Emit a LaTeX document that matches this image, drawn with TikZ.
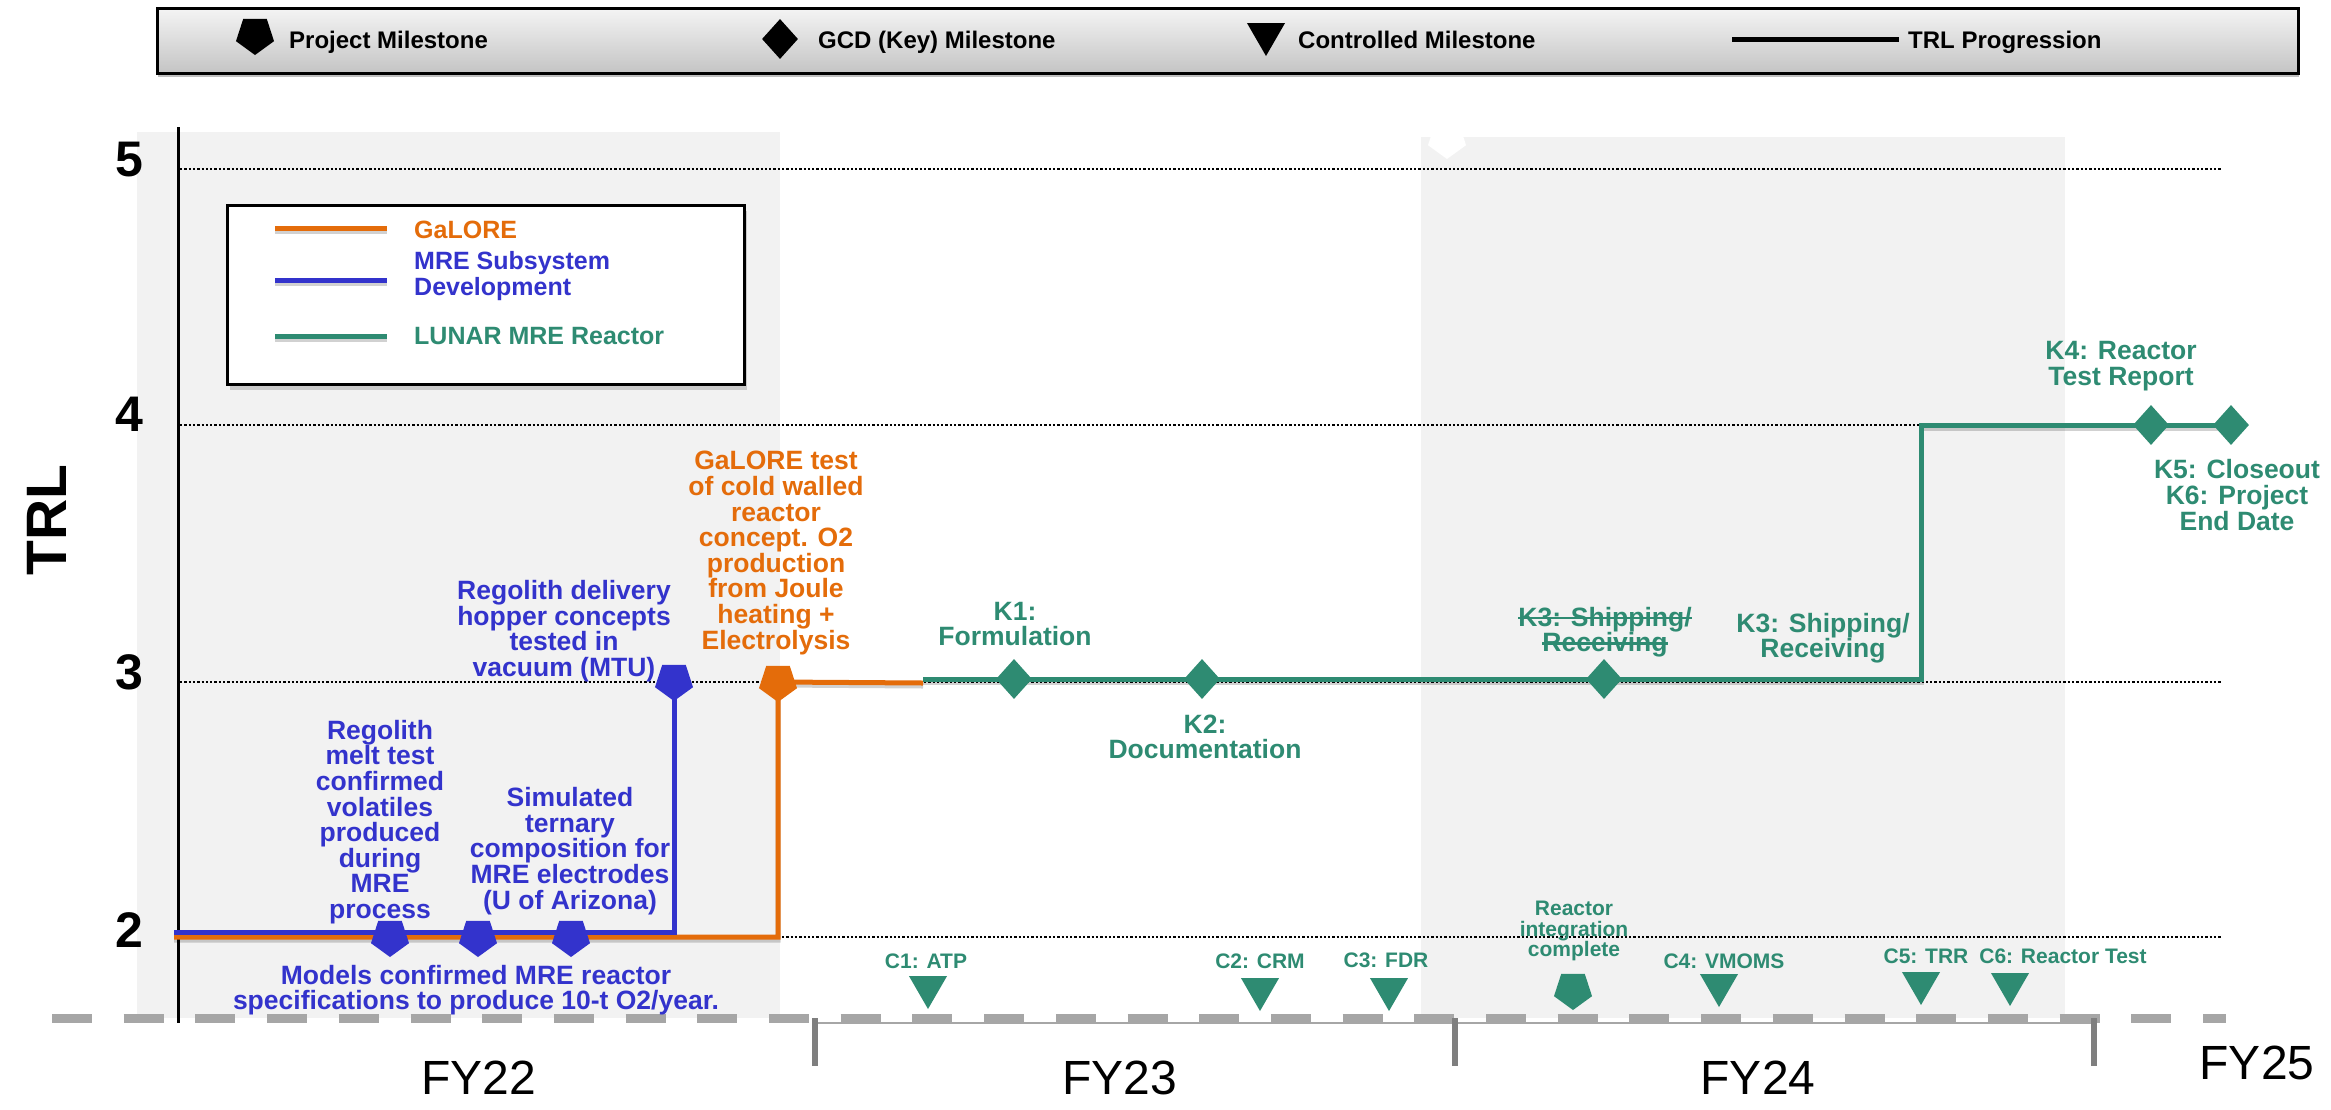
\documentclass[tikz,border=0pt]{standalone}
\usepackage{fontspec}
\setmainfont{Liberation Sans}
\usetikzlibrary{shapes.geometric,shadows}
\definecolor{galore}{RGB}{228,108,10}
\definecolor{mre}{RGB}{51,51,204}
\definecolor{lunar}{RGB}{46,139,114}
\definecolor{shadebg}{RGB}{242,242,242}
\definecolor{dashgrey}{RGB}{166,166,166}
\definecolor{tickgrey}{RGB}{127,127,127}
\definecolor{bartop}{RGB}{244,244,244}
\definecolor{barbot}{RGB}{196,196,196}
\newcommand{\lblfont}{\fontsize{26.5}{25.6}\selectfont\bfseries}
\newcommand{\cmfont}{\fontsize{21}{20.5}\selectfont\bfseries}
\newcommand{\legbarfont}{\fontsize{24}{26}\selectfont\bfseries}
\newcommand{\legboxfont}{\fontsize{25}{26}\selectfont\bfseries}
\newcommand{\fyfont}{\fontsize{48}{50}\selectfont}
\newcommand{\axfont}{\fontsize{50}{52}\selectfont\bfseries}
\newcommand{\trlfont}{\fontsize{57}{60}\selectfont\bfseries}
\newsavebox{\strkbox}
\newcommand{\strk}[1]{\sbox{\strkbox}{#1}\rlap{\rule[7pt]{\wd\strkbox}{2.5pt}}\usebox{\strkbox}}
\tikzset{
  projms/.style={regular polygon,regular polygon sides=5,shape border rotate=180,minimum size=40pt,inner sep=0pt},
  keyms/.style={diamond,minimum width=36pt,minimum height=40pt,inner sep=0pt},
  ctrlms/.style={regular polygon,regular polygon sides=3,shape border rotate=180,minimum size=44pt,inner sep=0pt},
  trlline/.style={line width=5pt},
  trlshadow/.style={line width=5pt,black,opacity=.18,transform canvas={yshift=-3pt}},
  gridline/.style={line width=2.8pt,dash pattern=on 2.3pt off 2pt},
  lbl/.style={font=\lblfont,align=center,inner sep=0pt},
  cmlbl/.style={font=\cmfont,align=center,inner sep=0pt},
  barlbl/.style={font=\legbarfont,anchor=base west,inner sep=0pt},
  boxlbl/.style={font=\legboxfont,anchor=west,align=left,inner sep=0pt},
  fylbl/.style={font=\fyfont,inner sep=0pt},
}
\begin{document}
\begin{tikzpicture}[x=1pt,y=-1pt]
\useasboundingbox (0,0) rectangle (2331,1109);
\fill[shadebg] (137,132) rectangle (780,1018);
\fill[shadebg] (1421,137) rectangle (2065,1018);
\node[projms,fill=white] (wms) at (1447,139) {};
\node[draw,line width=2.5pt,shade,top color=bartop,bottom color=barbot,drop shadow={shadow xshift=1pt,shadow yshift=-4pt,opacity=.5},minimum width=2141pt,minimum height=65pt,anchor=north west] (bar) at (156,7) {};
\node[projms,fill=black] (pmkey) at (255,35) {};
\node[barlbl] (pmtxt) at (289,48) {Project Milestone};
\node[keyms,fill=black] (kmkey) at (780,39) {};
\node[barlbl] (kmtxt) at (818,48) {GCD (Key) Milestone};
\node[ctrlms,fill=black] (cmkey) at (1266,34) {};
\node[barlbl] (cmtxt) at (1298,48) {Controlled Milestone};
\coordinate (tl1) at (1732,39);
\coordinate (tl2) at (1899,39);
\draw[trlline] (tl1) -- (tl2);
\node[barlbl] (tltxt) at (1908,48) {TRL Progression};
\foreach \y in {169,425,682,937}
  \draw[gridline] (180,\y) -- (2222,\y);
\draw[line width=3pt] (178,127) -- (178,1023);
\foreach \v/\y in {5/160,4/414,3/672,2/930}
  \node[font=\axfont,inner sep=0pt] (trl\v) at (129,\y) {\v};
\node[font=\trlfont,rotate=90,inner sep=0pt] (trlaxis) at (47,520) {TRL};
\draw[dashgrey,line width=2pt] (815,1023) -- (2094,1023);
\draw[dashgrey,line width=9pt,dash pattern=on 40pt off 31.7pt] (52,1018) -- (2226,1018);
\foreach \x in {815,1455,2094}
  \draw[tickgrey,line width=6pt] (\x,1018) -- (\x,1066);
\node[fylbl] (fy22) at (479,1078) {FY22};
\node[fylbl] (fy23) at (1120,1078) {FY23};
\node[fylbl] (fy24) at (1758,1078) {FY24};
\node[fylbl] (fy25) at (2257,1063) {FY25};
\node[draw,line width=3pt,fill=white,drop shadow={shadow xshift=2pt,shadow yshift=-5pt,opacity=.35},minimum width=517pt,minimum height=179pt,anchor=north west] (legbox) at (226,204) {};
\draw[trlshadow] (275,228) -- (387,228);
\draw[trlshadow] (275,280) -- (387,280);
\draw[trlshadow] (275,336) -- (387,336);
\draw[trlline,galore] (275,228) -- (387,228);
\draw[trlline,mre] (275,280) -- (387,280);
\draw[trlline,lunar] (275,336) -- (387,336);
\node[boxlbl,text=galore] (legg) at (414,230) {GaLORE};
\node[boxlbl,text=mre] (legm) at (414,276) {MRE Subsystem\\Development};
\node[boxlbl,text=lunar] (legl) at (414,336) {LUNAR MRE Reactor};
\coordinate (ostart) at (174,937);
\coordinate (bstart) at (174,932);
\coordinate (b1) at (390,937);
\coordinate (b2) at (478,937);
\coordinate (b3) at (571,937);
\coordinate (b4) at (674,681);
\coordinate (o1) at (778,682);
\coordinate (oend) at (923,683);
\coordinate (gstart) at (923,679);
\coordinate (k1) at (1014,679);
\coordinate (k2) at (1202,679);
\coordinate (k3) at (1604,679);
\coordinate (gstep) at (1921,425);
\coordinate (k4) at (2151,425);
\coordinate (k5) at (2231,425);
\draw[trlshadow] (ostart) -| (o1) -- (oend);
\draw[trlshadow] (gstart) -- (k1) -- (k2) -- (k3) -| (gstep) -- (k4) -- (k5);
\draw[trlline,galore] (ostart) -| (o1) -- (oend);
\draw[trlline,mre] (bstart) -| (b4);
\draw[trlline,lunar] (gstart) -- (k1) -- (k2) -- (k3) -| (gstep) -- (k4) -- (k5);
\foreach \m in {b1,b2,b3,b4}
  \node[projms,fill=mre] (\m ms) at (\m) {};
\node[projms,fill=galore] (o1ms) at (o1) {};
\foreach \m in {k1,k2,k3,k4,k5}
  \node[keyms,fill=lunar] (\m ms) at (\m) {};
\node[projms,fill=lunar] (intms) at (1573,990) {};
\node[ctrlms,fill=lunar] (c1) at (928,987) {};
\node[ctrlms,fill=lunar] (c2) at (1260,989) {};
\node[ctrlms,fill=lunar] (c3) at (1389,989) {};
\node[ctrlms,fill=lunar] (c4) at (1719,985) {};
\node[ctrlms,fill=lunar] (c5) at (1921,983) {};
\node[ctrlms,fill=lunar] (c6) at (2010,984) {};
\node[lbl,text=mre] (deliv) at (564,631) {Regolith delivery\\hopper concepts\\tested in\\vacuum (MTU)};
\node[lbl,text=mre] (melt) at (380,822) {Regolith\\melt test\\confirmed\\volatiles\\produced\\during\\MRE\\process};
\node[lbl,text=mre] (ternary) at (570,851) {Simulated\\ternary\\composition for\\MRE electrodes\\(U of Arizona)};
\node[lbl,text=mre] (models) at (476,990) {Models confirmed MRE reactor\\specifications to produce 10-t O2/year.};
\node[lbl,text=galore] (galtest) at (776,553) {GaLORE test\\of cold walled\\reactor\\concept. O2\\production\\from Joule\\heating +\\Electrolysis};
\node[lbl,text=lunar] (k1lbl) at (1015,624) {K1:\\Formulation};
\node[lbl,text=lunar] (k2lbl) at (1205,737) {K2:\\Documentation};
\node[lbl,text=lunar] (k3old) at (1605,632) {\strk{K3: Shipping/}\\\strk{Receiving}};
\node[lbl,text=lunar] (k3lbl) at (1823,638) {K3: Shipping/\\Receiving};
\node[lbl,text=lunar] (k4lbl) at (2121,366) {K4: Reactor\\Test Report};
\node[lbl,text=lunar] (k5lbl) at (2237,495) {K5: Closeout\\K6: Project\\End Date};
\node[cmlbl,text=lunar] (intlbl) at (1574,931) {Reactor\\integration\\complete};
\node[cmlbl,anchor=base,text=lunar] (c1lbl) at (926,968) {C1: ATP};
\node[cmlbl,anchor=base,text=lunar] (c2lbl) at (1260,968) {C2: CRM};
\node[cmlbl,anchor=base,text=lunar] (c3lbl) at (1386,967) {C3: FDR};
\node[cmlbl,anchor=base,text=lunar] (c4lbl) at (1724,968) {C4: VMOMS};
\node[cmlbl,anchor=base,text=lunar] (c5lbl) at (1926,963) {C5: TRR};
\node[cmlbl,anchor=base,text=lunar] (c6lbl) at (2063,963) {C6: Reactor Test};
\end{tikzpicture}
\end{document}
